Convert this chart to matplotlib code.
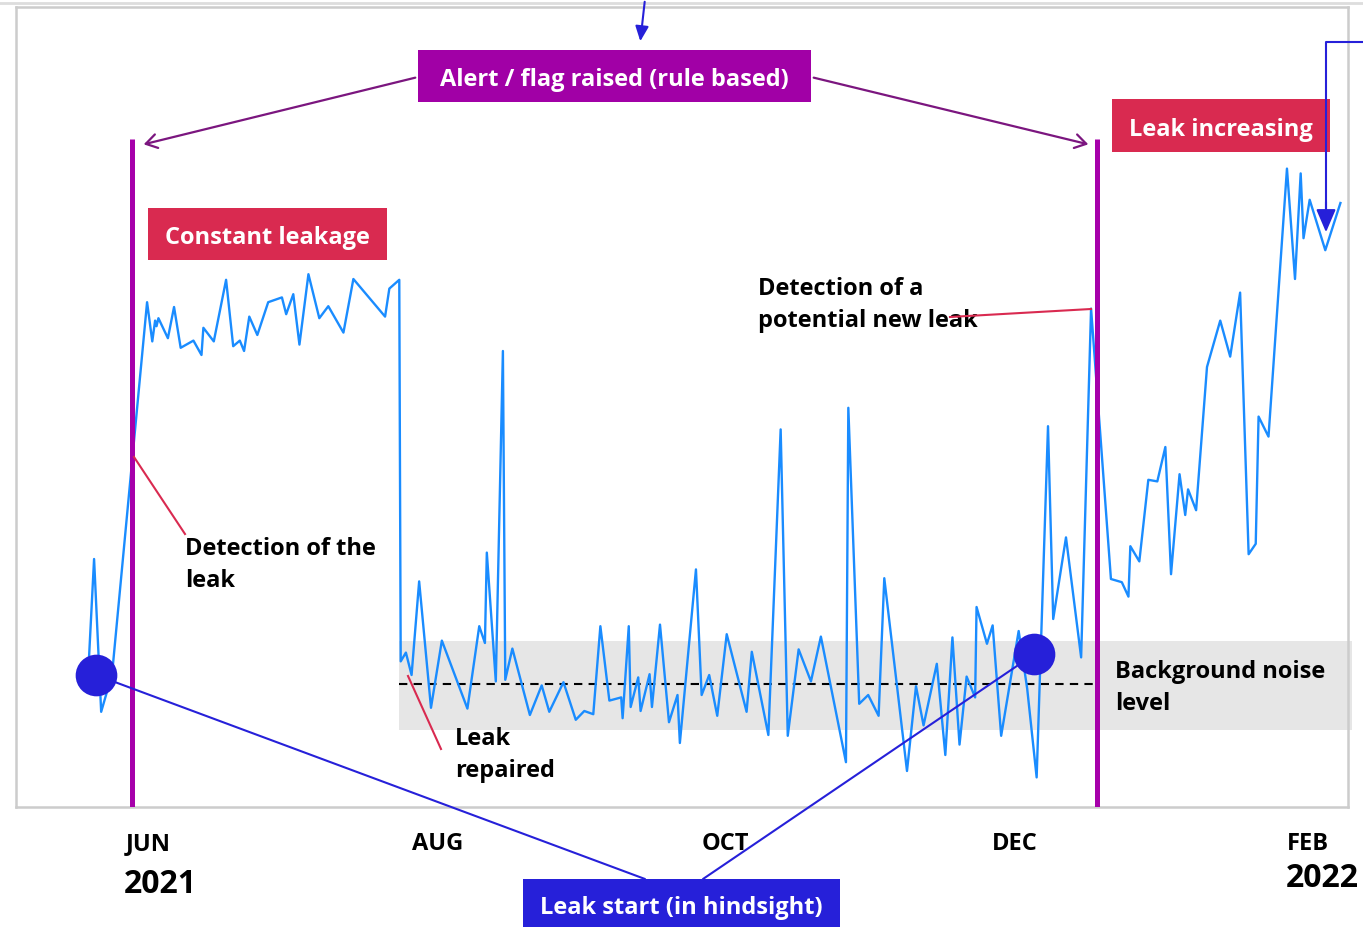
import matplotlib
matplotlib.use("Agg")
import matplotlib.pyplot as plt
from matplotlib.patches import Rectangle, ConnectionPatch, FancyArrowPatch

W, H = 1363, 928
FONT = ["Open Sans", "Lato", "DejaVu Sans"]
plt.rcParams["font.family"] = FONT

LINE = "#1A8CFF"; PURPLE = "#A600AA"; ARROW_PURPLE = "#7B167F"
RED = "#D92A50"; DBLUE = "#2620D9"; BAND = "#E6E6E6"

# ---- data: days since 2021-06-01, flow signal (arbitrary units) ----
days = [-12.8, -11.5, -10.0, -7.7, -0.3, 0.8, 1.4, 1.7, 2.1, 4.1, 5.4, 6.8, 9.5, 11.2, 11.6,
        13.8, 16.4, 17.9, 19.3, 20.2, 21.3, 23.0, 25.3, 28.2, 29.1, 30.6, 31.9, 33.8, 36.1,
        38.0, 41.2, 43.3, 50.0, 50.9, 53.0, 53.3, 54.4, 55.6, 57.2, 59.7, 62.0, 67.4, 69.9,
        71.1, 71.5, 73.4, 74.9, 75.4, 76.9, 80.6, 83.1, 84.7, 87.7, 90.3, 92.1, 94.0, 95.5,
        97.4, 99.9, 100.2, 101.5, 101.9, 103.5, 104.0, 105.9, 106.4, 108.1, 110.0, 111.8,
        112.3, 115.7, 116.9, 118.5, 120.2, 122.2, 126.4, 127.5, 131.0, 133.6, 135.1, 137.4,
        140.0, 142.1, 147.4, 147.9, 150.2, 152.1, 154.3, 155.5, 160.3, 162.2, 163.8, 166.6,
        168.4, 169.9, 171.4, 172.9, 174.7, 175.0, 177.2, 178.4, 180.2, 183.9, 185.7, 187.7,
        190.1, 191.2, 193.9, 197.1, 199.2, 203.4, 205.7, 207.1, 207.5, 209.4, 211.3, 213.2,
        214.9, 216.1, 217.9, 219.1, 219.7, 221.4, 223.7, 226.5, 228.6, 230.7, 232.5, 234.0,
        234.6, 236.7, 240.6, 242.3, 243.5, 244.1, 245.4, 248.7, 251.9]
flow = [16.0, 31.0, 11.9, 16.6, 63.1, 58.2, 60.8, 60.1, 61.1, 58.6, 62.5, 57.4, 58.3, 56.5, 59.9,
        58.2, 65.9, 57.6, 58.3, 57.0, 61.3, 59.0, 63.1, 63.7, 61.6, 64.1, 57.8, 66.6, 61.1,
        62.6, 59.3, 66.0, 61.3, 64.8, 65.9, 18.2, 19.3, 16.5, 28.2, 12.4, 20.8, 12.3, 22.6,
        20.5, 31.8, 15.7, 57.0, 15.9, 19.8, 11.5, 15.2, 11.9, 15.6, 10.9, 12.0, 11.6, 22.6,
        13.3, 13.7, 11.1, 22.6, 12.5, 16.2, 12.0, 16.6, 12.5, 22.8, 10.6, 14.0,
        8.0, 29.7, 14.0, 16.5, 11.4, 21.6, 11.9, 19.4, 9.0, 47.2, 8.9, 19.7,
        15.7, 21.3, 5.6, 49.9, 12.9, 14.0, 11.4, 28.6, 4.5, 15.1, 10.2, 17.9,
        6.5, 21.2, 7.8, 16.3, 13.7, 25.0, 20.4, 22.7, 8.9, 22.0, 14.8, 3.7,
        47.6, 23.5, 33.7, 18.7, 62.3, 28.5, 28.1, 26.3, 32.6, 30.7, 40.9, 40.7,
        45.0, 29.1, 41.6, 36.5, 39.7, 37.1, 55.0, 60.8, 56.3, 64.3, 31.6, 32.9,
        48.8, 46.3, 79.8, 66.0, 79.2, 71.1, 75.9, 69.6, 75.5]

month_days = [0, 61, 122, 183, 245]
month_labels = ["JUN", "AUG", "OCT", "DEC", "FEB"]
alert_days = [-3.5, 200.5]          # rule-based flags
leak_start_days = [-11.1, 187.2]    # leak start in hindsight
leak_start_vals = [16.5, 19.1]
noise_level = 15.4
noise_band = (9.6, 20.75)

fig = plt.figure(figsize=(W / 100, H / 100), dpi=100)
ax = fig.add_axes([16 / W, 1 - 808 / H, (1348 - 16) / W, (808 - 8) / H])
ax.set_xlim(-28.0, 253.5); ax.set_ylim(0, 100)
ax.set_yticks([])
ax.set_xticks(month_days, month_labels, fontsize=17, fontweight="bold")
ax.tick_params(axis="x", length=0, pad=17)
for s in ax.spines.values():
    s.set_color("#CCCCCC"); s.set_linewidth(1.8)

# background noise band + level
ax.add_patch(Rectangle((52.9, noise_band[0]), 201.4, noise_band[1] - noise_band[0],
                       facecolor=BAND, edgecolor="none", clip_on=False, zorder=0))
ax.plot([52.9, 199.6], [noise_level] * 2, color="black", ls=(0, (4, 3)), lw=1.5, zorder=1)

ax.plot(days, flow, color=LINE, lw=1.7, zorder=3)
for d in alert_days:
    ax.plot([d, d], [0, 83.5], color=PURPLE, lw=3.6, zorder=4, solid_capstyle="butt")
ax.plot(leak_start_days, leak_start_vals, "o", color=DBLUE, ms=30, zorder=6, mec="none")

# ---- overlay in pixel coordinates for call-outs ----
ov = fig.add_axes([0, 0, 1, 1], zorder=5)
ov.set_xlim(0, W); ov.set_ylim(H, 0); ov.axis("off"); ov.patch.set_alpha(0)


def box(x0, y0, x1, y1, text, color, dy=3):
    ov.add_patch(Rectangle((x0, y0), x1 - x0, y1 - y0, facecolor=color, edgecolor="none", zorder=7))
    ov.text((x0 + x1) / 2, (y0 + y1) / 2 + dy, text, color="white", fontsize=17,
            fontweight="bold", ha="center", va="center", zorder=8)


box(418, 51, 811, 103, "Alert / flag raised (rule based)", "#A100A6")
box(1112, 100, 1330, 153, "Leak increasing", RED)
box(148, 209, 387, 261, "Constant leakage", RED)
box(523, 880, 840, 928, "Leak start (in hindsight)", DBLUE, dy=4)

for end in [(141, 146), (1091, 146)]:
    start = (418, 78) if end[0] < 500 else (811, 78)
    ov.add_patch(FancyArrowPatch(start, end, arrowstyle="->,head_length=8,head_width=5",
                                 color=ARROW_PURPLE, lw=1.6, zorder=7))

ov.add_patch(FancyArrowPatch((645, 0), (640, 45), arrowstyle="-|>,head_length=9,head_width=4",
                             color=DBLUE, lw=1.5, zorder=7))
ov.plot([1363, 1326, 1326], [43, 43, 215], color=DBLUE, lw=1.5, zorder=7)
ov.add_patch(FancyArrowPatch((1326, 200), (1326, 236), arrowstyle="-|>,head_length=14,head_width=6",
                             color=DBLUE, lw=1.5, zorder=7))

for d, v, tx in zip(leak_start_days, leak_start_vals, [645, 703]):
    fig.add_artist(ConnectionPatch((d, v), (tx, 880), coordsA=ax.transData, coordsB=ov.transData,
                                   color=DBLUE, lw=1.5, zorder=5))

txt = dict(fontsize=17, fontweight="bold", color="black", zorder=8, linespacing=1.4)
ov.text(185, 565, "Detection of the\nleak", va="center", ha="left", **txt)
ov.text(758, 305, "Detection of a\npotential new leak", va="center", ha="left", **txt)
ov.text(455, 755, "Leak\nrepaired", va="center", ha="left", **txt)
ov.text(1115, 688, "Background noise\nlevel", va="center", ha="left", **txt)
ov.plot([185, 134], [535, 458], color=RED, lw=1.5, zorder=7)
ov.plot([950, 1091], [318, 310], color=RED, lw=1.5, zorder=9)
ov.plot([441, 408], [750, 677], color=RED, lw=1.5, zorder=7)

ov.text(160, 885, "2021", fontsize=23, fontweight="bold", ha="center", va="center")
ov.text(1322, 879, "2022", fontsize=23, fontweight="bold", ha="center", va="center")
ov.plot([0, W], [4, 4], color="#DDDDDD", lw=2, zorder=1)

fig.savefig("out.png", dpi=100)
